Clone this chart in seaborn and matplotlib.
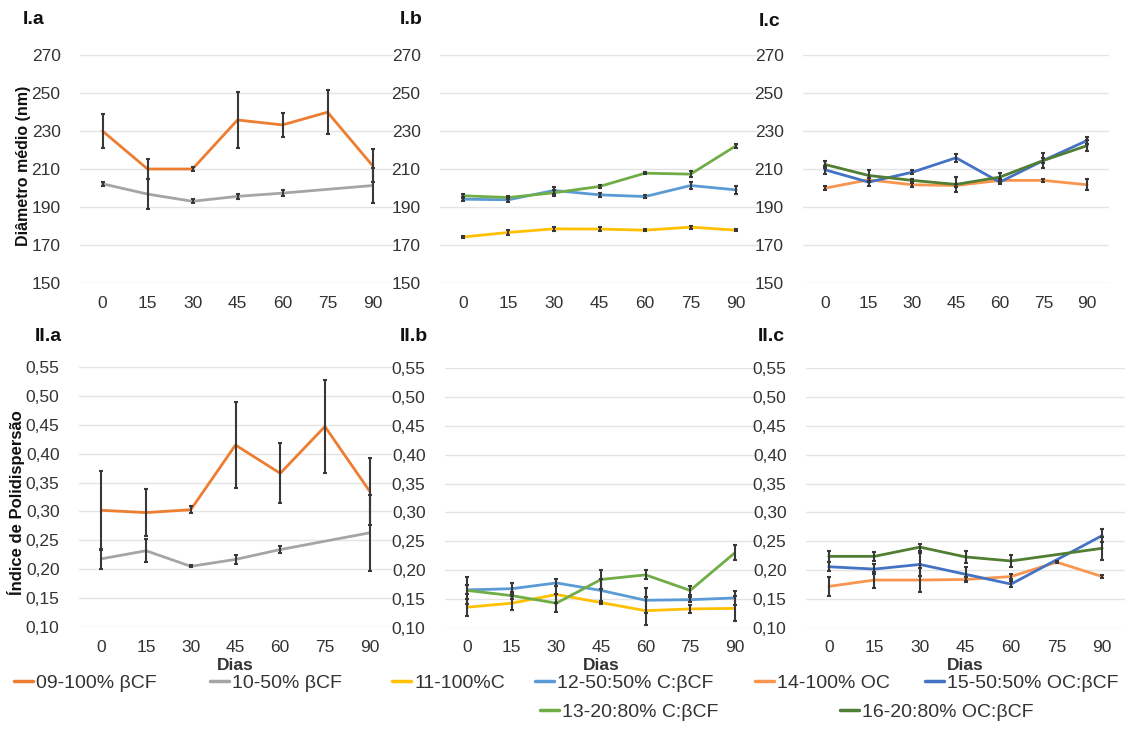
import numpy as np
import pandas as pd
import matplotlib
matplotlib.use("Agg")
import matplotlib.pyplot as plt
from matplotlib.lines import Line2D
import seaborn as sns

# ---------------- data ----------------
days = [0, 15, 30, 45, 60, 75, 90]
day_labels = ["0", "15", "30", "45", "60", "75", "90"]

diam_ticks = [150, 170, 190, 210, 230, 250, 270]
pdi_ticks = [0.10, 0.15, 0.20, 0.25, 0.30, 0.35, 0.40, 0.45, 0.50, 0.55]
pdi_tick_labels = ["0,10", "0,15", "0,20", "0,25", "0,30", "0,35", "0,40", "0,45", "0,50", "0,55"]

series_names = ["09-100% βCF", "10-50% βCF", "11-100%C", "12-50:50% C:βCF",
                "13-20:80% C:βCF", "14-100% OC", "15-50:50% OC:βCF", "16-20:80% OC:βCF"]

# Diâmetro médio (nm)
diam_09 = [230.0, 210.0, 210.0, 235.8, 233.2, 239.9, 211.8]
diam_09_err = [9.0, 5.5, 1.0, 14.5, 6.5, 11.7, 8.5]
diam_10 = [202.2, 196.8, 193.0, 195.6, 197.3, np.nan, 201.3]
diam_10_err = [1.0, 7.7, 1.0, 1.5, 1.5, np.nan, 9.0]
diam_11 = [174.2, 176.6, 178.5, 178.4, 177.8, 179.4, 177.8]
diam_11_err = [0.6, 1.2, 1.0, 1.0, 0.6, 0.8, 0.6]
diam_12 = [194.1, 193.8, 198.7, 196.4, 195.5, 201.3, 199.0]
diam_12_err = [1.0, 1.0, 2.0, 1.2, 1.0, 2.0, 2.0]
diam_13 = [195.9, 195.0, 197.5, 200.8, 207.8, 207.3, 222.3]
diam_13_err = [1.0, 1.0, 1.5, 1.0, 0.6, 1.5, 1.0]
diam_14 = [199.9, 204.3, 201.7, 201.3, 204.0, 204.0, 201.7]
diam_14_err = [1.0, 1.0, 1.0, 1.0, 1.0, 0.8, 3.0]
diam_15 = [209.6, 203.1, 208.3, 215.9, 203.1, 214.5, 225.0]
diam_15_err = [2.0, 2.0, 1.0, 2.0, 1.0, 1.5, 2.0]
diam_16 = [212.4, 206.6, 204.0, 201.9, 205.7, 214.5, 222.3]
diam_16_err = [2.0, 3.0, 1.0, 4.0, 2.0, 4.0, 3.0]

# Índice de Polidispersão
pdi_09 = [0.302, 0.298, 0.303, 0.415, 0.366, 0.447, 0.335]
pdi_09_err = [0.068, 0.041, 0.006, 0.074, 0.052, 0.080, 0.058]
pdi_10 = [0.218, 0.232, 0.205, 0.217, 0.234, np.nan, 0.263]
pdi_10_err = [0.017, 0.020, 0.002, 0.008, 0.006, np.nan, 0.066]
pdi_11 = [0.136, 0.143, 0.158, 0.144, 0.130, 0.133, 0.134]
pdi_11_err = [0.015, 0.012, 0.015, 0.002, 0.024, 0.007, 0.022]
pdi_12 = [0.166, 0.168, 0.178, 0.165, 0.148, 0.149, 0.152]
pdi_12_err = [0.008, 0.010, 0.006, 0.020, 0.022, 0.004, 0.012]
pdi_13 = [0.165, 0.156, 0.143, 0.184, 0.192, 0.165, 0.230]
pdi_13_err = [0.023, 0.006, 0.015, 0.016, 0.008, 0.008, 0.013]
pdi_14 = [0.172, 0.183, 0.183, 0.184, 0.189, 0.214, 0.189]
pdi_14_err = [0.017, 0.014, 0.020, 0.005, 0.004, 0.002, 0.003]
pdi_15 = [0.206, 0.202, 0.210, 0.193, 0.176, np.nan, 0.260]
pdi_15_err = [0.008, 0.008, 0.020, 0.012, 0.005, np.nan, 0.012]
pdi_16 = [0.224, 0.224, 0.240, 0.223, 0.216, np.nan, 0.238]
pdi_16_err = [0.010, 0.008, 0.006, 0.010, 0.010, np.nan, 0.020]

colors = {
    "09-100% βCF": "#ED7D31",
    "10-50% βCF": "#A5A5A5",
    "11-100%C": "#FFC000",
    "12-50:50% C:βCF": "#5B9BD5",
    "13-20:80% C:βCF": "#70AD47",
    "14-100% OC": "#F8964F",
    "15-50:50% OC:βCF": "#4472C4",
    "16-20:80% OC:βCF": "#507E32",
}

# ---------------- style ----------------
sns.set_theme(style="white")
plt.rcParams["font.family"] = ["Liberation Sans", "DejaVu Sans"]

W, H = 1132, 747
fig = plt.figure(figsize=(W / 100, H / 100), dpi=100)
fig.patch.set_facecolor("white")

TXT = "#333333"
ERR = "#383838"


def add_ax(l, t, r, b):
    return fig.add_axes([l / W, 1 - b / H, (r - l) / W, (b - t) / H])


def draw_series(ax, name, vals, errs):
    df = pd.DataFrame({"dia": days, "val": vals, "err": errs}).dropna()
    sns.lineplot(data=df, x="dia", y="val", ax=ax, color=colors[name],
                 lw=2.0, legend=False, errorbar=None, zorder=2)
    ax.errorbar(df["dia"], df["val"], yerr=df["err"], fmt="none",
                ecolor=ERR, elinewidth=1.5, capsize=1.6, capthick=1.5, zorder=3)


def style_ax(ax, top):
    ax.set_xlim(-7.5, 97.5)
    ax.set_xticks(days)
    ax.set_xticklabels(day_labels)
    if top:
        ax.set_ylim(150, 270)
        ax.set_yticks(diam_ticks)
        ax.set_yticklabels([str(v) for v in diam_ticks])
    else:
        ax.set_ylim(0.10, 0.55)
        ax.set_yticks(pdi_ticks)
        ax.set_yticklabels(pdi_tick_labels)
    ax.yaxis.grid(True, color="#e4e4e4", lw=1.0, zorder=0)
    ax.xaxis.grid(False)
    for s in ax.spines.values():
        s.set_visible(False)
    ax.tick_params(axis="both", length=0, labelsize=12.5, colors=TXT)
    ax.tick_params(axis="y", pad=14)
    ax.tick_params(axis="x", pad=9)
    ax.set_xlabel("")
    ax.set_ylabel("")
    ax.set_facecolor("none")


panels = [
    ((80, 55, 395, 283), True, "I.a", (23, 20),
     [("09-100% βCF", diam_09, diam_09_err), ("10-50% βCF", diam_10, diam_10_err)]),
    ((440, 55, 759, 283), True, "I.b", (400, 20),
     [("11-100%C", diam_11, diam_11_err), ("12-50:50% C:βCF", diam_12, diam_12_err),
      ("13-20:80% C:βCF", diam_13, diam_13_err)]),
    ((803, 55, 1109, 283), True, "I.c", (759, 22),
     [("14-100% OC", diam_14, diam_14_err), ("15-50:50% OC:βCF", diam_15, diam_15_err),
      ("16-20:80% OC:βCF", diam_16, diam_16_err)]),
    ((79, 367, 392, 627), False, "II.a", (35, 336),
     [("09-100% βCF", pdi_09, pdi_09_err), ("10-50% βCF", pdi_10, pdi_10_err)]),
    ((445, 368, 757, 628), False, "II.b", (400, 336),
     [("11-100%C", pdi_11, pdi_11_err), ("12-50:50% C:βCF", pdi_12, pdi_12_err),
      ("13-20:80% C:βCF", pdi_13, pdi_13_err)]),
    ((806, 368, 1125, 628), False, "II.c", (758, 336),
     [("14-100% OC", pdi_14, pdi_14_err), ("15-50:50% OC:βCF", pdi_15, pdi_15_err),
      ("16-20:80% OC:βCF", pdi_16, pdi_16_err)]),
]

for box, top, label, (lx, ly), ser in panels:
    ax = add_ax(*box)
    for name, vals, errs in ser:
        draw_series(ax, name, vals, errs)
    style_ax(ax, top)
    fig.text(lx / W, 1 - ly / H, label, fontsize=14, fontweight="bold",
             color="#111111", ha="left", va="center")
    if not top:
        cx = (box[0] + box[2]) / 2
        fig.text(cx / W, 1 - 666 / H, "Dias", fontsize=12.5, fontweight="bold",
                 color=TXT, ha="center", va="center")

fig.text(24 / W, 1 - 166 / H, "Diâmetro médio (nm)", rotation=90, fontsize=11.5,
         fontweight="bold", color="#111111", ha="center", va="center")
fig.text(16 / W, 1 - 503 / H, "Índice de Polidispersão", rotation=90, fontsize=12,
         fontweight="bold", color="#111111", ha="center", va="center")

# ---------------- legend ----------------
legend_pos = {
    "09-100% βCF": (14, 683),
    "10-50% βCF": (210, 683),
    "11-100%C": (392, 683),
    "12-50:50% C:βCF": (535, 683),
    "14-100% OC": (755, 683),
    "15-50:50% OC:βCF": (925, 683),
    "13-20:80% C:βCF": (540, 712),
    "16-20:80% OC:βCF": (840, 712),
}
for name in series_names:
    x, y = legend_pos[name]
    h = Line2D([0], [0], color=colors[name], lw=2.5)
    fig.legend(handles=[h], labels=[name], loc="center left",
               bbox_to_anchor=(x / W, 1 - y / H), frameon=False,
               fontsize=14, handlelength=1.0, handletextpad=0.15,
               borderaxespad=0, borderpad=0, labelcolor=TXT)

fig.savefig("out.png", dpi=100, facecolor="white")
